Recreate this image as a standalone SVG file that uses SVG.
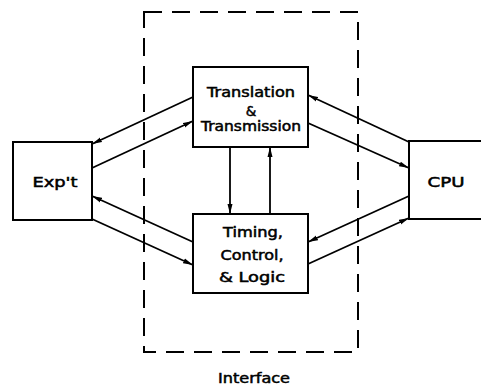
<svg xmlns="http://www.w3.org/2000/svg" width="481" height="386" viewBox="0 0 481 386">
<style>
.box{fill:#fff;stroke:#000;stroke-width:2}
.dash{fill:none;stroke:#000;stroke-width:2;stroke-dasharray:18 10}
.c{fill:none;stroke:#000;stroke-width:1.8;marker-end:url(#ah)}
text{font-family:"DejaVu Sans","Liberation Sans",sans-serif;font-size:13.5px;fill:#000;stroke:#000;stroke-width:0.5;text-anchor:middle}
</style>
<defs>
<marker id="ah" viewBox="0 0 10 6" refX="10" refY="3" markerWidth="10" markerHeight="6" markerUnits="userSpaceOnUse" orient="auto">
<path d="M0,0.5 L10,3 L0,5.5 Z" fill="#000"/>
</marker>
</defs>
<g id="interface">
<rect class="dash" x="144" y="12" width="214" height="340"/>
<text x="254" y="383" textLength="72" lengthAdjust="spacingAndGlyphs">Interface</text>
</g>
<g id="expt">
<rect class="box" x="13" y="142" width="79" height="78"/>
<text x="55" y="187" textLength="45" lengthAdjust="spacingAndGlyphs">Exp't</text>
</g>
<g id="cpu">
<rect class="box" x="409" y="141" width="90" height="78"/>
<text x="446" y="187" textLength="37" lengthAdjust="spacingAndGlyphs">CPU</text>
</g>
<g id="translation">
<rect class="box" x="193" y="67" width="115" height="80"/>
<text x="251" y="97" textLength="88" lengthAdjust="spacingAndGlyphs">Translation</text>
<text x="251" y="116">&amp;</text>
<text x="251" y="131" textLength="100" lengthAdjust="spacingAndGlyphs">Transmission</text>
</g>
<g id="timing">
<rect class="box" x="193" y="214" width="115" height="79"/>
<text x="253" y="237" textLength="60" lengthAdjust="spacingAndGlyphs">Timing,</text>
<text x="252" y="260" textLength="63" lengthAdjust="spacingAndGlyphs">Control,</text>
<text x="252" y="282" textLength="66" lengthAdjust="spacingAndGlyphs">&amp; Logic</text>
</g>
<g id="connectors">
<line class="c" x1="230" y1="147" x2="230" y2="214"/>
<line class="c" x1="270" y1="214" x2="270" y2="147"/>
<line class="c" x1="193" y1="97" x2="92" y2="144"/>
<line class="c" x1="92" y1="168" x2="193" y2="121"/>
<line class="c" x1="409" y1="142" x2="308" y2="95"/>
<line class="c" x1="308" y1="123" x2="409" y2="168"/>
<line class="c" x1="193" y1="242" x2="92" y2="196"/>
<line class="c" x1="92" y1="219" x2="193" y2="265"/>
<line class="c" x1="409" y1="196" x2="308" y2="242"/>
<line class="c" x1="308" y1="264" x2="409" y2="218"/>
</g>
</svg>
